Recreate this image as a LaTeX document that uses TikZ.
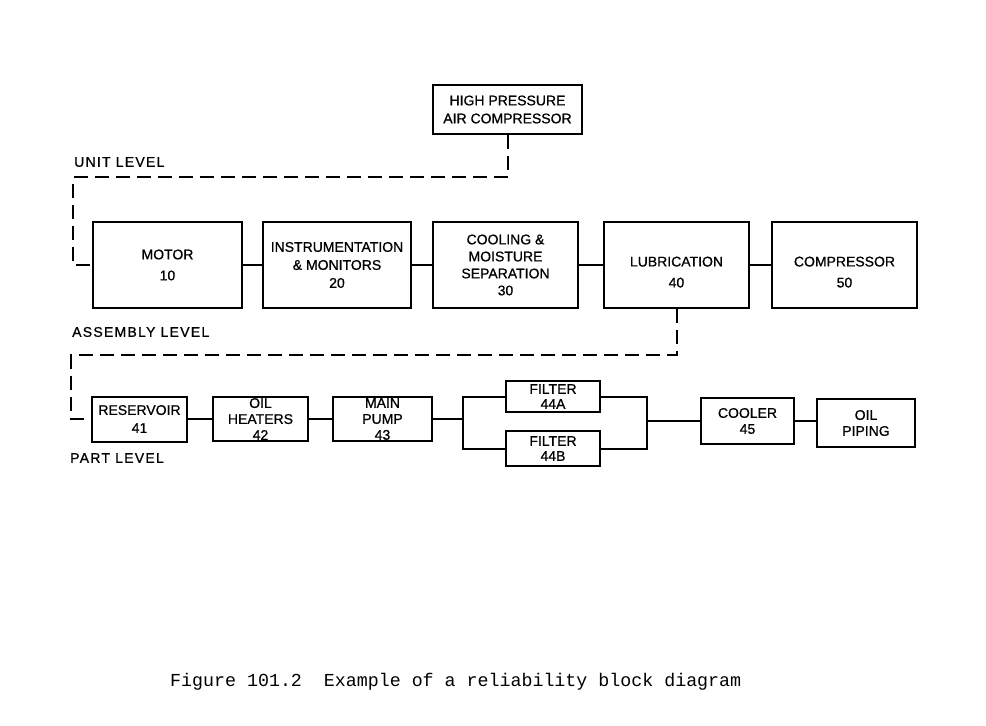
\documentclass[tikz,border=0pt]{standalone}
\usepackage{fontspec}
\setmainfont[FakeBold=0.8]{Liberation Sans}
\newfontfamily\capfont{Liberation Mono}
\newfontfamily\lvlfont[LetterSpace=9,FakeBold=0.8]{Liberation Sans}
\begin{document}
\begin{tikzpicture}[x=1pt,y=-1pt,
  blk/.style={draw,line width=2pt,inner sep=0pt,align=center,font=\fontsize{14}{18}\selectfont},
  blks/.style={blk,font=\fontsize{14}{16}\selectfont},
  conn/.style={line width=2pt},
  dconn/.style={line width=2pt,dash pattern=on 14pt off 7pt},
  lvl/.style={anchor=west,inner sep=0pt,font=\lvlfont\fontsize{14}{17}\selectfont}]
\useasboundingbox (0,0) rectangle (986,726);
% unit level
\node[blk,minimum width=149pt,minimum height=49pt] (hp) at (507.5,109.5) {HIGH PRESSURE\\AIR COMPRESSOR};
\node[lvl] (unitlbl) at (74,162) {UNIT LEVEL};
% assembly level
\node[blk,minimum width=149pt,minimum height=86pt] (motor) at (167.5,265) {MOTOR\\[3pt]10};
\node[blk,minimum width=148pt,minimum height=86pt] (instr) at (337,265) {INSTRUMENTATION\\\&\ MONITORS\\20};
\node[blk,font=\fontsize{14}{17}\selectfont,minimum width=145pt,minimum height=86pt] (cool) at (505.5,265) {COOLING \&\\MOISTURE\\SEPARATION\\30};
\node[blk,minimum width=145pt,minimum height=86pt] (lub) at (676.5,265) {\mbox{}\\[6pt]LUBRICATION\\[3pt]40};
\node[blk,minimum width=145pt,minimum height=86pt] (comp) at (844.5,265) {\mbox{}\\[6pt]COMPRESSOR\\[3pt]50};
\node[lvl] (asmlbl) at (72,332) {ASSEMBLY LEVEL};
% part level
\node[blks,minimum width=95pt,minimum height=45pt] (res) at (139.5,419) {RESERVOIR\\[2pt]41};
\node[blks,minimum width=95pt,minimum height=44pt] (heat) at (260.5,419) {OIL\\HEATERS\\42};
\node[blks,minimum width=99pt,minimum height=44pt] (pump) at (382.5,419) {MAIN\\PUMP\\43};
\node[blks,font=\fontsize{14}{15}\selectfont,minimum width=94pt,minimum height=31pt] (fa) at (553,396.5) {FILTER\\44A};
\node[blks,font=\fontsize{14}{15}\selectfont,minimum width=94pt,minimum height=35pt] (fb) at (553,448.5) {FILTER\\44B};
\node[blks,minimum width=93pt,minimum height=46pt] (cooler) at (747.5,421) {COOLER\\45};
\node[blks,minimum width=98pt,minimum height=48pt] (pipe) at (866,423) {OIL\\PIPING};
\node[lvl] (partlbl) at (70,458) {PART LEVEL};
% connectors assembly
\draw[conn] (motor.east) -- (instr.west);
\draw[conn] (instr.east) -- (cool.west);
\draw[conn] (cool.east) -- (lub.west);
\draw[conn] (lub.east) -- (comp.west);
% connectors part
\coordinate (jl) at (463,419);
\coordinate (jr) at (647,421);
\draw[conn] (res.east) -- (heat.west);
\draw[conn] (heat.east) -- (pump.west);
\draw[conn] (pump.east) -- (jl);
\draw[conn] (fa.west) -| (jl) |- (fb.west);
\draw[conn] (fa.east) -| (jr) |- (fb.east);
\draw[conn] (jr) -- (cooler.west);
\draw[conn] (cooler.east) -- (cooler.east -| pipe.west);
% dashed level links
\coordinate (u2) at (73,177);
\coordinate (a2) at (71,355);
\draw[dconn] (hp.south) |- (u2) |- (motor.west);
\draw[dconn] (lub.south) |- (a2) |- (res.west);
% caption
\node[anchor=west,inner sep=0pt,font=\capfont\fontsize{18.3}{20}\selectfont] (cap) at (170,682) {Figure 101.2\ \ Example of a reliability block diagram};
\end{tikzpicture}
\end{document}
